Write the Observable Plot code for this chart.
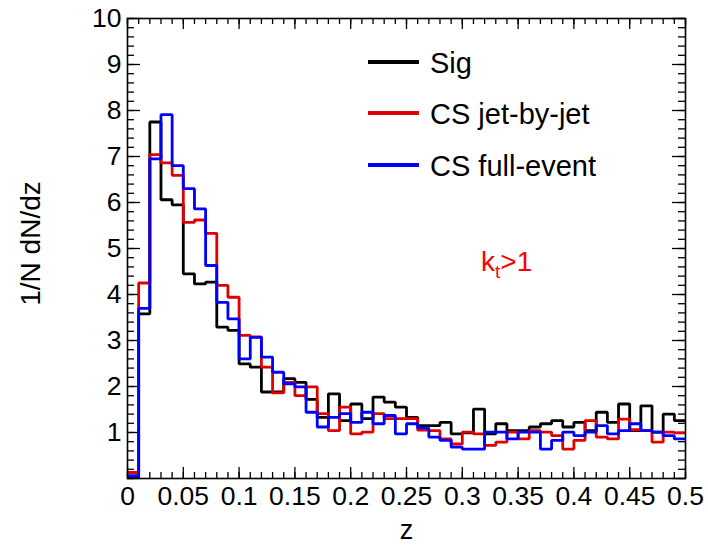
<!DOCTYPE html>
<html>
<head>
<meta charset="utf-8">
<script src="https://cdn.jsdelivr.net/npm/d3@7"></script>
<script src="https://cdn.jsdelivr.net/npm/@observablehq/plot@0.6"></script>
<style>
  body { margin: 0; background: #fff; }
  #wrap { position: relative; width: 708px; height: 546px; font-family: "Liberation Sans", Arial, Helvetica, sans-serif; }
  #wrap svg.overlay { position: absolute; left: 0; top: 0; pointer-events: none; }
  #kt { position: absolute; left: 481px; top: 248px; color: #ff0000; font-size: 28px; line-height: 1; white-space: nowrap; }
  #kt sub { font-size: 19px; vertical-align: -7px; line-height: 0; }
</style>
</head>
<body>
<div id="wrap"></div>
<script>
// ---- data ----
const binLow = [0.00,0.01,0.02,0.03,0.04,0.05,0.06,0.07,0.08,0.09,
                0.10,0.11,0.12,0.13,0.14,0.15,0.16,0.17,0.18,0.19,
                0.20,0.21,0.22,0.23,0.24,0.25,0.26,0.27,0.28,0.29,
                0.30,0.31,0.32,0.33,0.34,0.35,0.36,0.37,0.38,0.39,
                0.40,0.41,0.42,0.43,0.44,0.45,0.46,0.47,0.48,0.49];
const binWidth = 0.01;
const seriesNames = ["Sig", "CS jet-by-jet", "CS full-event"];
const seriesColors = ["#000000", "#e00000", "#0000ff"];
const sig = [0.02,3.58,7.75,6.06,5.95,4.45,4.23,4.27,3.29,3.22,
             2.49,2.42,1.88,1.88,2.17,2.09,1.72,1.33,1.84,1.26,
             1.62,1.30,1.77,1.66,1.55,1.33,1.15,1.15,1.22,0.97,
             0.99,1.51,0.97,1.19,1.04,1.04,1.12,1.19,1.26,1.12,
             1.22,1.04,1.44,1.22,1.62,1.04,1.58,1.01,1.40,1.26];
const csJet = [0.13,4.25,7.04,6.86,6.59,5.57,5.62,5.33,4.20,3.94,
               3.11,3.08,2.42,1.86,2.09,1.80,1.99,1.41,1.04,1.55,
               0.97,1.01,1.41,1.30,1.30,1.30,1.05,1.04,0.86,0.75,
               1.01,0.97,0.72,0.79,1.01,0.86,1.04,1.01,0.93,0.64,
               0.83,1.26,0.90,0.86,1.29,1.06,1.04,0.79,1.01,0.99];
const csFull = [0.06,3.70,6.95,7.91,6.80,6.30,5.86,4.63,3.83,3.47,
                2.60,3.07,2.64,2.31,2.06,1.99,1.44,1.12,1.33,1.41,
                1.22,1.44,1.19,1.37,0.97,1.19,1.10,0.90,0.83,0.68,
                0.64,0.64,1.01,1.01,0.86,1.01,1.01,0.64,0.83,1.01,
                0.93,1.01,1.15,0.97,1.04,1.19,1.04,1.01,0.93,0.86];
const xMajorTicks = [0,0.05,0.1,0.15,0.2,0.25,0.3,0.35,0.4,0.45,0.5];
const xMinorTicks = [0,0.01,0.02,0.03,0.04,0.05,0.06,0.07,0.08,0.09,0.1,0.11,0.12,0.13,0.14,0.15,0.16,0.17,0.18,0.19,0.2,
                     0.21,0.22,0.23,0.24,0.25,0.26,0.27,0.28,0.29,0.3,0.31,0.32,0.33,0.34,0.35,0.36,0.37,0.38,0.39,0.4,
                     0.41,0.42,0.43,0.44,0.45,0.46,0.47,0.48,0.49,0.5];
const yMajorTicks = [0,1,2,3,4,5,6,7,8,9,10];
const yLabelTicks = [1,2,3,4,5,6,7,8,9,10];
const yMinorTicks = [0,0.2,0.4,0.6,0.8,1,1.2,1.4,1.6,1.8,2,2.2,2.4,2.6,2.8,3,3.2,3.4,3.6,3.8,4,4.2,4.4,4.6,4.8,5,
                     5.2,5.4,5.6,5.8,6,6.2,6.4,6.6,6.8,7,7.2,7.4,7.6,7.8,8,8.2,8.4,8.6,8.8,9,9.2,9.4,9.6,9.8,10];

// ---- layout ----
const W = 708, H = 546;
const mL = 127, mR = 23, mT = 18, mB = 68;
const fw = W - mL - mR, fh = H - mT - mB;

function steps(vals) {
  const pts = [];
  vals.forEach((v, i) => {
    pts.push({x: binLow[i], y: v});
    pts.push({x: binLow[i] + binWidth, y: v});
  });
  return pts;
}
const allSeries = [sig, csJet, csFull];

const lineMarks = allSeries.map((vals, k) =>
  Plot.line(steps(vals), {x: "x", y: "y", stroke: seriesColors[k], strokeWidth: 2.8,
    strokeLinejoin: "miter", strokeLinecap: "butt", clip: true}));

const xMajLen = 11, xMinLen = 6, yMajLen = 13, yMinLen = 7;

const chart = Plot.plot({
  width: W, height: H,
  marginLeft: mL, marginRight: mR, marginTop: mT, marginBottom: mB,
  x: {domain: [0, 0.5]},
  y: {domain: [0, 10]},
  style: {fontFamily: '"Liberation Sans", Arial, Helvetica, sans-serif', fontSize: "26.5px", color: "#000", background: "#fff", overflow: "visible"},
  marks: [
    Plot.ruleX(xMinorTicks, {insetTop: fh - xMinLen, stroke: "#000", strokeWidth: 1.3}),
    Plot.ruleX(xMinorTicks, {insetBottom: fh - xMinLen, stroke: "#000", strokeWidth: 1.3}),
    Plot.ruleX(xMajorTicks, {insetTop: fh - xMajLen, stroke: "#000", strokeWidth: 1.3}),
    Plot.ruleX(xMajorTicks, {insetBottom: fh - xMajLen, stroke: "#000", strokeWidth: 1.3}),
    Plot.ruleY(yMinorTicks, {insetRight: fw - yMinLen, stroke: "#000", strokeWidth: 1.3}),
    Plot.ruleY(yMinorTicks, {insetLeft: fw - yMinLen, stroke: "#000", strokeWidth: 1.3}),
    Plot.ruleY(yMajorTicks, {insetRight: fw - yMajLen, stroke: "#000", strokeWidth: 1.3}),
    Plot.ruleY(yMajorTicks, {insetLeft: fw - yMajLen, stroke: "#000", strokeWidth: 1.3}),
    ...lineMarks,
    Plot.frame({stroke: "#000", strokeWidth: 1.6}),
    Plot.axisX({ticks: xMajorTicks, tickSize: 0, tickPadding: 8, label: null,
      tickFormat: d => String(+d.toFixed(2))}),
    Plot.axisY({ticks: yLabelTicks, tickSize: 0, tickPadding: 6, label: null}),
    Plot.text(["z"], {frameAnchor: "bottom", dy: 52, lineAnchor: "middle", fontSize: 27}),
    Plot.text(["1/N dN/dz"], {frameAnchor: "left", dx: -96, dy: -5, rotate: -90, textAnchor: "middle", lineAnchor: "middle", fontSize: 28})
  ]
});

const wrap = document.getElementById("wrap");
wrap.appendChild(chart);

// legend overlay
const ns = "http://www.w3.org/2000/svg";
const ov = document.createElementNS(ns, "svg");
ov.setAttribute("class", "overlay");
ov.setAttribute("width", W);
ov.setAttribute("height", H);
const legY = [62, 113, 165];
seriesNames.forEach((name, k) => {
  const ln = document.createElementNS(ns, "line");
  ln.setAttribute("x1", 368); ln.setAttribute("x2", 419);
  ln.setAttribute("y1", legY[k]); ln.setAttribute("y2", legY[k]);
  ln.setAttribute("stroke", seriesColors[k]); ln.setAttribute("stroke-width", 4);
  ov.appendChild(ln);
  const t = document.createElementNS(ns, "text");
  t.setAttribute("x", 430); t.setAttribute("y", legY[k] + 11);
  t.setAttribute("font-size", 29);
  t.setAttribute("font-family", '"Liberation Sans", Arial, Helvetica, sans-serif');
  t.setAttribute("fill", "#000");
  t.textContent = name;
  ov.appendChild(t);
});
wrap.appendChild(ov);

const kt = document.createElement("div");
kt.id = "kt";
kt.innerHTML = "k<sub>t</sub>&gt;1";
wrap.appendChild(kt);
</script>
</body>
</html>
